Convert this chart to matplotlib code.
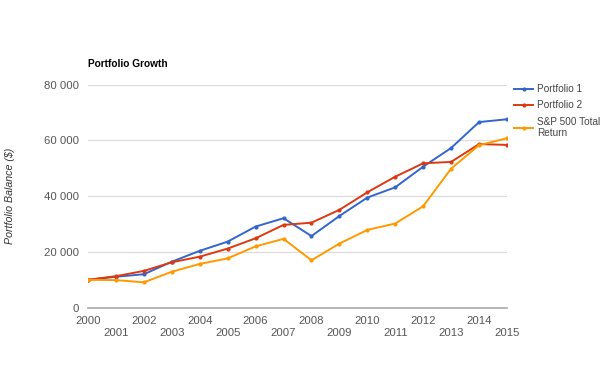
import matplotlib
matplotlib.use("Agg")
import matplotlib.pyplot as plt
from matplotlib.ticker import FuncFormatter

plt.rcParams['font.family'] = ['Liberation Sans', 'DejaVu Sans']

years = list(range(2000, 2016))
portfolio1 = [10000, 11100, 12000, 16500, 20400, 23700, 29100, 32100, 25700, 32900,
              39500, 43200, 50600, 57300, 66600, 67600]
portfolio2 = [10000, 11300, 13200, 16300, 18300, 21200, 24900, 29700, 30500, 35100,
              41400, 47000, 51800, 52300, 58700, 58400]
sp500 = [10000, 9900, 9100, 12900, 15700, 17700, 22000, 24700, 17000, 23000,
         27900, 30200, 36400, 49900, 58300, 60800]
series_names = ["Portfolio 1", "Portfolio 2", "S&P 500 Total\nReturn"]
colors = ["#3366cc", "#dc3912", "#ff9900"]
yticks = [0, 20000, 40000, 60000, 80000]

fig = plt.figure(figsize=(6.04, 3.69), dpi=100)
ax = fig.add_axes([88/604, 1-307.7/369, (507-88)/604, (307.7-84.7)/369])

for vals, name, c in zip([portfolio1, portfolio2, sp500], series_names, colors):
    ax.plot(years, vals, color=c, lw=1.4, marker='o', ms=2.0, label=name,
            solid_joinstyle='round')

ax.set_xlim(2000, 2015)
ax.set_ylim(0, 80000)
ax.set_yticks(yticks)
ax.yaxis.set_major_formatter(FuncFormatter(lambda v, p: f"{int(v):,}".replace(",", " ")))
ax.set_xticks(years)
ax.set_xticklabels([str(y) if (y % 2 == 0) else "\n" + str(y) for y in years])
ax.tick_params(axis='both', length=0, labelsize=8.2, labelcolor='#555555')
ax.tick_params(axis='y', pad=6.5)
ax.tick_params(axis='x', pad=6)

ax.grid(axis='y', color='#dddddd', lw=0.9)
ax.set_axisbelow(True)
for s in ['top', 'right', 'left']:
    ax.spines[s].set_visible(False)
ax.spines['bottom'].set_color('#aaaaaa')
ax.spines['bottom'].set_linewidth(1.2)

fig.text(88/604, 1-64/369, "Portfolio Growth", fontsize=7.3, fontweight='bold',
         color='#000000', va='center', ha='left')
fig.text(10/604, 1-196/369, "Portfolio Balance ($)", fontsize=7.7, style='italic',
         color='#333333', rotation=90, va='center', ha='center')

leg = ax.legend(loc='upper left', bbox_to_anchor=(514/604, 1-84.5/369),
                bbox_transform=fig.transFigure, frameon=False, fontsize=7.2,
                handlelength=1.9, handletextpad=0.4, labelspacing=0.6,
                borderaxespad=0, borderpad=0)
for t in leg.get_texts():
    t.set_color('#444444')

fig.savefig("out.png", dpi=100)
